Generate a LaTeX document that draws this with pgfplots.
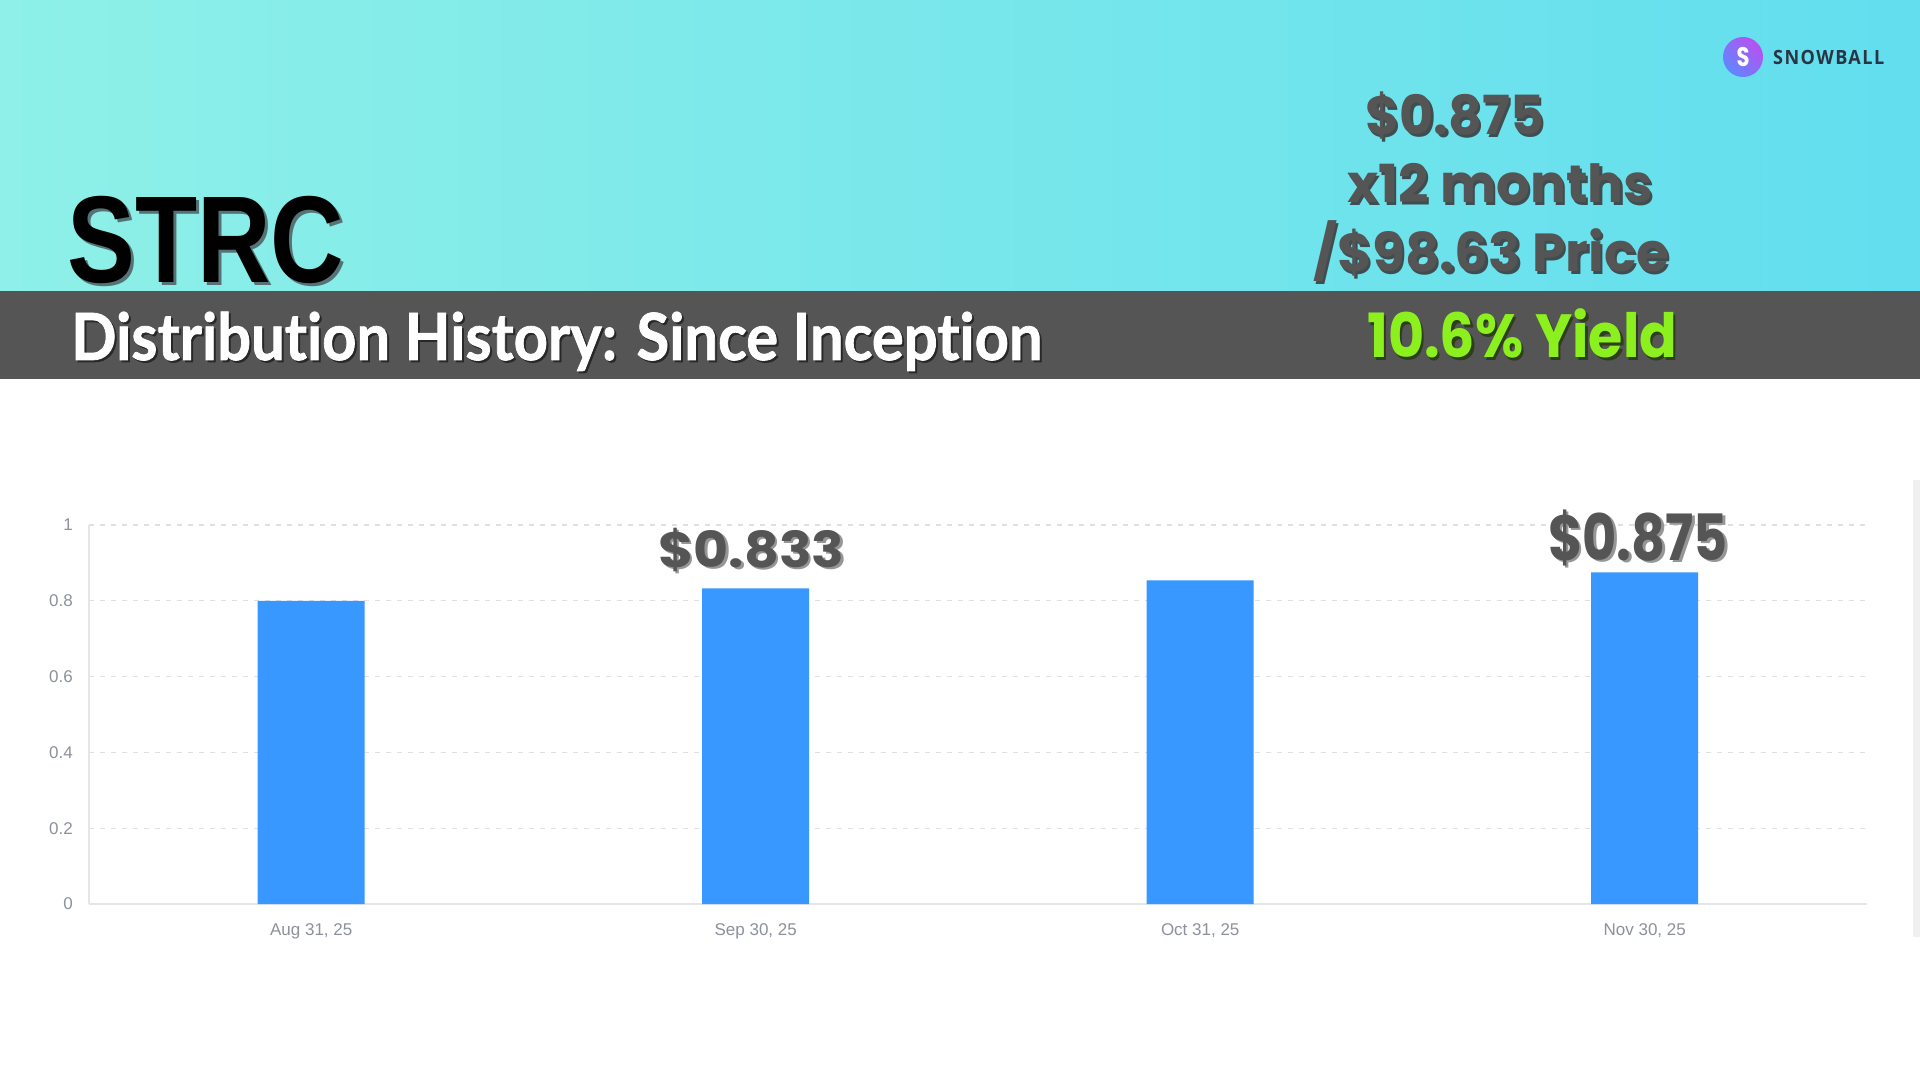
\documentclass[border=0pt]{standalone}
\usepackage{pgfplots}
\pgfplotsset{compat=1.18}
\usepackage{fontspec}
\setmainfont{Liberation Sans}
\newfontfamily\latofont[Ligatures=NoCommon, FakeBold=1.2]{Lato}
\newfontfamily\popfont{Poppins}
\newfontfamily\libsans{Liberation Sans}
\newfontfamily\logofont[LetterSpace=8]{Open Sans}
\definecolor{barblue}{RGB}{56,152,255}
\definecolor{bandgray}{RGB}{85,85,85}
\definecolor{txtgray}{RGB}{85,85,85}
\definecolor{tickgray}{RGB}{140,145,155}
\definecolor{gridgray}{RGB}{224,224,228}
\definecolor{axisgray}{RGB}{228,230,234}
\definecolor{yieldgreen}{RGB}{140,240,30}
\definecolor{logonavy}{RGB}{43,52,69}
\definecolor{topleft}{RGB}{142,240,232}
\definecolor{topright}{RGB}{98,222,238}
\definecolor{logoA}{RGB}{95,135,255}
\definecolor{logoB}{RGB}{185,80,240}
\definecolor{shTeal}{RGB}{62,78,80}
\definecolor{shStrc}{RGB}{85,115,118}
\definecolor{shBand}{RGB}{40,40,40}
\definecolor{shGreen}{RGB}{45,62,25}
\definecolor{shWhite}{RGB}{150,150,150}
% #1 font, #2 reference char, #3 width, #4 height of reference char, #5 text
\newcommand\fit[5]{\resizebox{#3}{#4}{#1\fontsize{50}{50}\selectfont\raisebox{0pt}[\fontcharht\font`#2][0pt]{#5}}}
% #1 shadow colour, #2 dx, #3 dy, #4 text colour, #5 content
\newcommand\shadowed[5]{\makebox[0pt][l]{\hspace*{#2}\raisebox{-#3}{\color{#1}#5}}{\color{#4}#5}}
\pgfplotstableread{
x y
0 0.800
1 0.833
2 0.854
3 0.875
}\distdata
\begin{document}
\begin{tikzpicture}[x=1pt,y=1pt]
\useasboundingbox (0,0) rectangle (1920,1080);
\fill[white] (0,0) rectangle (1920,1080);
% top gradient band
\shade[left color=topleft, right color=topright] (0,789) rectangle (1920,1080);
% dark band
\fill[bandgray] (0,701) rectangle (1920,789);
% right faint strip
\fill[black!6] (1913,143) rectangle (1920,600);
% STRC
\node[anchor=base west, inner sep=0] at (67,797) {\shadowed{shStrc}{3pt}{3pt}{black}{\fit{\libsans\bfseries}{T}{277pt}{85pt}{STRC}}};
% subtitle
\node[anchor=base west, inner sep=0] at (71,720) {\shadowed{shBand}{2pt}{2pt}{white}{\fit{\latofont\bfseries}{D}{971pt}{47pt}{Distribution History: Since Inception}}};
% right-hand header text
\node[anchor=base west, inner sep=0] at (1365,945) {\shadowed{shTeal}{2.5pt}{2.5pt}{txtgray}{\fit{\popfont\bfseries}{0}{179pt}{38pt}{\$0.875}}};
\node[anchor=base west, inner sep=0] at (1347,877) {\shadowed{shTeal}{2.5pt}{2.5pt}{txtgray}{\fit{\popfont\bfseries}{1}{306pt}{37pt}{x12 months}}};
\node[anchor=base west, inner sep=0] at (1313,808) {\shadowed{shTeal}{2.5pt}{2.5pt}{txtgray}{\fit{\popfont\bfseries}{9}{356pt}{40pt}{/\$98.63 Price}}};
\node[anchor=base west, inner sep=0] at (1367,722) {\shadowed{shGreen}{2.5pt}{2.5pt}{yieldgreen}{\fit{\popfont\bfseries}{1}{310pt}{43pt}{10.6\% Yield}}};
% logo
\shade[left color=logoA, right color=logoB, shading angle=135] (1743,1023) circle (20);
\node[inner sep=0, text=white] at (1743,1023) {\fit{\popfont\bfseries}{S}{13pt}{19pt}{S}};
\node[anchor=base west, inner sep=0, text=logonavy] at (1773,1015) {\fit{\logofont\bfseries}{B}{111pt}{14pt}{SNOWBALL}};
% chart
\begin{axis}[
  at={(89pt,176pt)}, anchor=south west,
  width=1778pt, height=379pt, scale only axis,
  xmin=-0.5, xmax=3.5, ymin=0, ymax=1,
  axis x line*=bottom, axis y line*=left,
  axis line style={draw=axisgray, line width=1.3pt},
  xtick={0,1,2,3},
  xticklabels={{Aug 31, 25},{Sep 30, 25},{Oct 31, 25},{Nov 30, 25}},
  ytick={0,0.2,0.4,0.6,0.8,1},
  yticklabels={0,0.2,0.4,0.6,0.8,1},
  ymajorgrids,
  grid style={draw=gridgray, line width=1.2pt, dash pattern=on 5pt off 6pt},
  major tick length=0pt,
  tick label style={font=\libsans\fontsize{17}{17}\selectfont, text=tickgray},
  /pgf/number format/assume math mode=true,
  yticklabel style={inner sep=0pt, anchor=east, xshift=-16pt},
  xticklabel style={inner sep=0pt, anchor=north, yshift=-19pt},
  clip=false,
]
\addplot[ybar, bar width=107pt, fill=barblue, draw=none] table[x=x,y=y] {\distdata};
\node[anchor=base, inner sep=0] at (axis cs:0.99,0.833) [yshift=21pt] {\shadowed{shWhite}{2.5pt}{2.5pt}{txtgray}{\fit{\popfont\bfseries}{0}{186pt}{35pt}{\$0.833}}};
\node[anchor=base, inner sep=0] at (axis cs:2.985,0.875) [yshift=12pt] {\shadowed{shWhite}{2.5pt}{2.5pt}{txtgray}{\fit{\popfont\bfseries}{0}{180pt}{45pt}{\$0.875}}};
\end{axis}
\end{tikzpicture}
\end{document}
